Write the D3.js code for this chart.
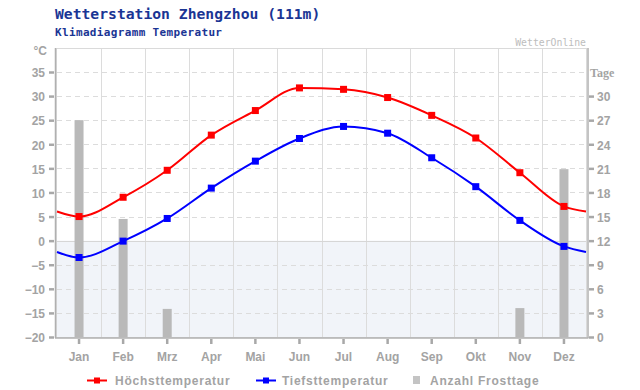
<!DOCTYPE html>
<html>
<head>
<meta charset="utf-8">
<script src="https://cdn.jsdelivr.net/npm/d3@7"></script>
<style>
  body { margin: 0; background: #fff; }
  svg { display: block; }
  .axis text { font-family: "Liberation Sans", Arial, sans-serif; font-weight: bold; font-size: 12px; fill: #a3a3a3; }
  .axis line { stroke: #a8a8a8; stroke-width: 2.5; }
  .axis path { display: none; }
</style>
</head>
<body>
<script>
// chart data
const months = ["Jan", "Feb", "Mrz", "Apr", "Mai", "Jun", "Jul", "Aug", "Sep", "Okt", "Nov", "Dez"];
const tMax = [5.0, 9.0, 14.6, 21.9, 27.0, 31.7, 31.4, 29.7, 26.0, 21.3, 14.1, 7.1];
const tMin = [-3.5, -0.1, 4.6, 10.9, 16.5, 21.2, 23.7, 22.3, 17.2, 11.2, 4.2, -1.2];
const frostDays = [27, 14.7, 3.5, 0, 0, 0, 0, 0, 0, 0, 3.6, 20.9];
const tempTicks = [-20, -15, -10, -5, 0, 5, 10, 15, 20, 25, 30, 35];
const dayTicks = [0, 3, 6, 9, 12, 15, 18, 21, 24, 27, 30];

const W = 640, H = 390;
const pLeft = 57, pRight = 586, pTop = 49, pBottom = 337;

const svg = d3.select("body").append("svg")
    .attr("width", W)
    .attr("height", H);

const x = d3.scaleBand().domain(months).range([pLeft, pRight]);
const y = d3.scaleLinear().domain([-20, 35]).range([pBottom, 72]);
const yDays = d3.scaleLinear().domain([0, 33]).range([pBottom, 72]);

// titles
svg.append("text")
    .attr("x", 55).attr("y", 19)
    .attr("font-family", "DejaVu Sans Mono, monospace")
    .attr("font-weight", "bold")
    .attr("font-size", 14.7)
    .attr("fill", "#1a3594")
    .text("Wetterstation Zhengzhou (111m)");
svg.append("text")
    .attr("x", 55).attr("y", 36)
    .attr("font-family", "DejaVu Sans Mono, monospace")
    .attr("font-weight", "bold")
    .attr("font-size", 11)
    .attr("letter-spacing", 0.35)
    .attr("fill", "#1a3594")
    .text("Klimadiagramm Temperatur");
svg.append("text")
    .attr("x", pRight).attr("y", 46)
    .attr("text-anchor", "end")
    .attr("font-family", "DejaVu Sans Mono, monospace")
    .attr("font-size", 9.8)
    .attr("fill", "#bdbdbd")
    .text("WetterOnline");

// below-zero background
svg.append("rect")
    .attr("x", pLeft).attr("y", y(0))
    .attr("width", pRight - pLeft).attr("height", pBottom - y(0))
    .attr("fill", "#f1f4f9");

// grid
svg.append("g")
    .selectAll("line")
    .data(months.slice(1))
    .join("line")
    .attr("x1", d => Math.round(x(d)) + 0.5).attr("x2", d => Math.round(x(d)) + 0.5)
    .attr("y1", pTop).attr("y2", pBottom)
    .attr("stroke", "#dcdcdc");
svg.append("g")
    .selectAll("line")
    .data(tempTicks.filter(t => t > -20))
    .join("line")
    .attr("x1", pLeft).attr("x2", pRight)
    .attr("y1", d => Math.round(y(d)) + 0.5).attr("y2", d => Math.round(y(d)) + 0.5)
    .attr("stroke", d => d === 0 ? "#d6d6d6" : "#dcdcdc")
    .attr("stroke-dasharray", d => d === 0 ? null : "5,4");

// frost day bars
svg.append("g")
    .selectAll("rect")
    .data(frostDays)
    .join("rect")
    .attr("x", (d, i) => x(months[i]) + x.bandwidth() / 2 - 4.5)
    .attr("width", 9)
    .attr("y", d => yDays(d))
    .attr("height", d => pBottom - yDays(d))
    .attr("fill", "#b9b9b9");

// frame
svg.append("rect")
    .attr("x", pLeft - 0.5).attr("y", pTop - 0.5)
    .attr("width", pRight - pLeft + 1).attr("height", pBottom - pTop + 1)
    .attr("fill", "none").attr("stroke", "#dadada");
svg.append("line")
    .attr("x1", pLeft - 1.5).attr("x2", pLeft - 1.5)
    .attr("y1", pTop - 1).attr("y2", pBottom + 1)
    .attr("stroke", "#b0b0b0").attr("stroke-width", 1.5);
svg.append("line")
    .attr("x1", pRight + 2).attr("x2", pRight + 2)
    .attr("y1", pTop - 1).attr("y2", pBottom + 1)
    .attr("stroke", "#b0b0b0").attr("stroke-width", 1.5);
svg.append("line")
    .attr("x1", pLeft - 2).attr("x2", pRight + 2.5)
    .attr("y1", pBottom + 1).attr("y2", pBottom + 1)
    .attr("stroke", "#b0b0b0").attr("stroke-width", 1.5);

// temperature lines (wrapped to the edges with Dec/Jan mean)
function linePoints(vals) {
    const edge = (vals[0] + vals[11]) / 2;
    const pts = [[pLeft, edge]];
    vals.forEach((v, i) => pts.push([x(months[i]) + x.bandwidth() / 2, v]));
    pts.push([pRight, edge]);
    return pts;
}
const line = d3.line()
    .x(d => d[0])
    .y(d => y(d[1]))
    .curve(d3.curveMonotoneX);

[[tMax, "#ff0000"], [tMin, "#0000ff"]].forEach(([vals, col]) => {
    svg.append("path")
        .attr("d", line(linePoints(vals)))
        .attr("fill", "none")
        .attr("stroke", col)
        .attr("stroke-width", 2);
    svg.append("g")
        .selectAll("rect")
        .data(vals)
        .join("rect")
        .attr("x", (d, i) => x(months[i]) + x.bandwidth() / 2 - 3.5)
        .attr("y", d => y(d) - 3.5)
        .attr("width", 7).attr("height", 7)
        .attr("fill", col);
});

// axes
svg.append("g")
    .attr("class", "axis vert")
    .attr("transform", `translate(${pLeft - 3},0)`)
    .call(d3.axisLeft(y).tickValues(tempTicks).tickSize(5).tickPadding(4));
svg.append("g")
    .attr("class", "axis vert")
    .attr("transform", `translate(${pRight + 3},0)`)
    .call(d3.axisRight(yDays).tickValues(dayTicks).tickSize(5).tickPadding(3));
svg.append("g")
    .attr("class", "axis")
    .attr("transform", `translate(0,${pBottom + 2})`)
    .call(d3.axisBottom(x).tickSize(5).tickPadding(8));

svg.selectAll(".vert text").attr("dy", "0.4em");

// unit labels
svg.append("text")
    .attr("x", 47).attr("y", 55)
    .attr("text-anchor", "end")
    .attr("font-family", "Liberation Sans, Arial, sans-serif")
    .attr("font-weight", "bold").attr("font-size", 12)
    .attr("fill", "#a3a3a3")
    .text("°C");
svg.append("text")
    .attr("x", 590).attr("y", 77)
    .attr("font-family", "Liberation Serif, serif")
    .attr("font-weight", "bold").attr("font-size", 12)
    .attr("fill", "#a3a3a3")
    .text("Tage");

// legend
const legend = svg.append("g")
    .attr("font-family", "Liberation Sans, Arial, sans-serif")
    .attr("font-weight", "bold")
    .attr("font-size", 12)
    .attr("letter-spacing", 0.75)
    .attr("fill", "#a3a3a3");
[["Höchsttemperatur", "#ff0000", 87, 115], ["Tiefsttemperatur", "#0000ff", 256, 282]].forEach(([label, col, lx, tx]) => {
    legend.append("line")
        .attr("x1", lx).attr("x2", lx + 20)
        .attr("y1", 380.5).attr("y2", 380.5)
        .attr("stroke", col).attr("stroke-width", 2);
    legend.append("rect")
        .attr("x", lx + 7).attr("y", 377.5)
        .attr("width", 6).attr("height", 6)
        .attr("fill", col);
    legend.append("text").attr("x", tx).attr("y", 385).text(label);
});
legend.append("rect")
    .attr("x", 413).attr("y", 376)
    .attr("width", 7).attr("height", 8)
    .attr("fill", "#c4c4c4");
legend.append("text").attr("x", 430).attr("y", 385).text("Anzahl Frosttage");
</script>
</body>
</html>
